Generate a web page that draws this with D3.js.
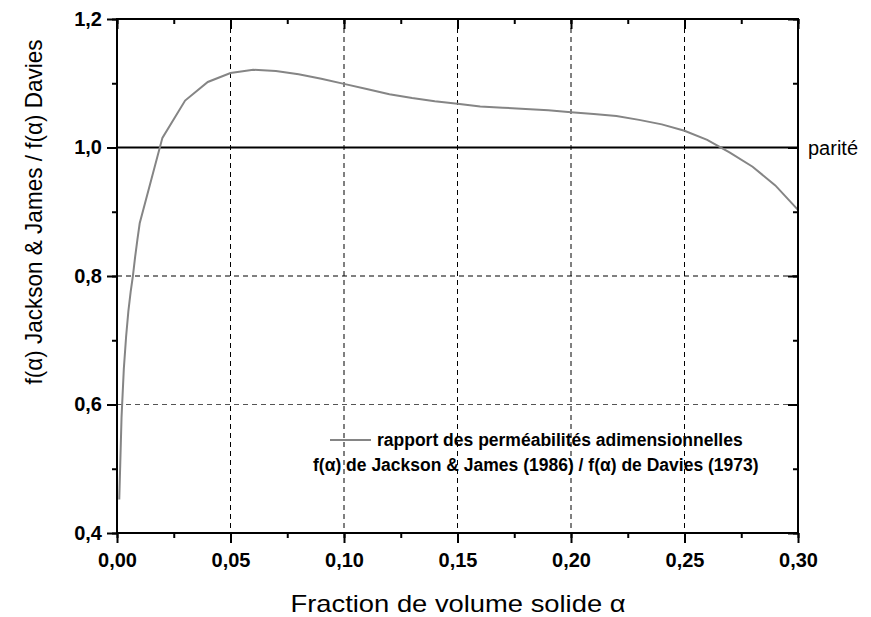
<!DOCTYPE html>
<html><head><meta charset="utf-8">
<script src="https://cdn.jsdelivr.net/npm/d3@7"></script>
<style>body{margin:0;background:#fff}svg{display:block}</style>
</head><body>
<svg id="c" width="871" height="617"></svg>
<script>
const alphaValues = [0.001,0.002,0.003,0.004,0.005,0.006,0.007,0.008,0.009,0.01,0.02,0.03,0.04,0.05,0.06,0.07,0.08,0.09,0.10,0.11,0.12,0.13,0.14,0.15,0.16,0.17,0.18,0.19,0.20,0.21,0.22,0.23,0.24,0.25,0.26,0.27,0.28,0.29,0.30];
const ratioValues = [0.452,0.58,0.655,0.705,0.745,0.775,0.80,0.83,0.857,0.882,1.015,1.073,1.102,1.116,1.121,1.119,1.114,1.107,1.099,1.091,1.083,1.077,1.072,1.068,1.064,1.062,1.060,1.058,1.055,1.052,1.049,1.043,1.036,1.026,1.012,0.992,0.970,0.941,0.903];
const xTicks = [0,0.05,0.10,0.15,0.20,0.25,0.30];
const yTicks = [0.4,0.6,0.8,1.0,1.2];
const xTitle = "Fraction de volume solide α";
const yTitle = "f(α) Jackson & James / f(α) Davies";
const legendLines = ["rapport des perméabilités adimensionnelles","f(α) de Jackson & James (1986) / f(α) de Davies (1973)"];
const parityValue = 1.0, parityLabel = "parité";

const L=117,R=798,T=19,B=533;
const svg=d3.select("#c");
const x=d3.scaleLinear().domain([0,0.30]).range([L,R]);
const y=d3.scaleLinear().domain([0.4,1.2]).range([B,T]);
const fmt=d=>d3.format(".2f")(d).replace(".",",");
const fmtY=d=>d3.format(".1f")(d).replace(".",",");
const xMinor=d3.range(0,0.3001,0.025);
const yMinor=d3.range(0.4,1.2001,0.1);

// grid
const g=svg.append("g");
xTicks.slice(1,-1).forEach(t=>g.append("line").attr("x1",x(t)).attr("x2",x(t)).attr("y1",T).attr("y2",B)
  .attr("stroke","#000").attr("stroke-width",1).attr("stroke-dasharray","5,4"));
[0.6,0.8].forEach(t=>g.append("line").attr("x1",L).attr("x2",R).attr("y1",y(t)).attr("y2",y(t))
  .attr("stroke",t===0.6?"#555":"#000").attr("stroke-width",1).attr("stroke-dasharray","5,4"));

// parity line
svg.append("line").attr("x1",L).attr("x2",R).attr("y1",y(parityValue)).attr("y2",y(parityValue))
  .attr("stroke","#000").attr("stroke-width",2);

// curve
svg.append("path").datum(alphaValues.map((a,i)=>[a,ratioValues[i]]))
  .attr("d",d3.line().x(d=>x(d[0])).y(d=>y(d[1])))
  .attr("fill","none").attr("stroke","#858585").attr("stroke-width",2);

// axes
function ax(axis,tr){
  const a=svg.append("g").attr("transform",tr).call(axis);
  a.select(".domain").remove();
  a.selectAll("line").attr("stroke","#000").attr("stroke-width",2);
  return a;
}
// minor ticks
ax(d3.axisBottom(x).tickValues(xMinor).tickSize(5).tickFormat(""),`translate(0,${B})`);
ax(d3.axisTop(x).tickValues(xMinor).tickSize(-5).tickFormat(""),`translate(0,${T})`);
ax(d3.axisLeft(y).tickValues(yMinor).tickSize(5).tickFormat(""),`translate(${L},0)`);
ax(d3.axisRight(y).tickValues(yMinor).tickSize(-5).tickFormat(""),`translate(${R},0)`);
// major ticks
const xb=ax(d3.axisBottom(x).tickValues(xTicks).tickSize(10).tickPadding(10).tickFormat(fmt),`translate(0,${B})`);
ax(d3.axisTop(x).tickValues(xTicks).tickSize(-10).tickFormat(""),`translate(0,${T})`);
const yl=ax(d3.axisLeft(y).tickValues(yTicks).tickSize(10).tickPadding(5).tickFormat(fmtY),`translate(${L},0)`);
ax(d3.axisRight(y).tickValues(yTicks).tickSize(-10).tickFormat(""),`translate(${R},0)`);
[xb,yl].forEach(a=>a.selectAll("text").attr("font-family","Liberation Sans, Arial, sans-serif")
  .attr("font-weight","bold").attr("font-size",20).attr("fill","#000"));

// frame
svg.append("rect").attr("x",L).attr("y",T).attr("width",R-L).attr("height",B-T)
  .attr("fill","none").attr("stroke","#000").attr("stroke-width",2);

// titles
svg.append("text").attr("x",458).attr("y",612).attr("text-anchor","middle")
  .attr("font-family","Liberation Sans, Arial, sans-serif").attr("font-size",24)
  .attr("textLength",335).attr("lengthAdjust","spacingAndGlyphs").text(xTitle);
svg.append("text").attr("transform","translate(42,212) rotate(-90)").attr("text-anchor","middle")
  .attr("font-family","Liberation Sans, Arial, sans-serif").attr("font-size",24)
  .attr("textLength",345).attr("lengthAdjust","spacingAndGlyphs").text(yTitle);

// parity label
svg.append("text").attr("x",808).attr("y",y(parityValue)+7)
  .attr("font-family","Liberation Sans, Arial, sans-serif").attr("font-size",20).text(parityLabel);

// legend
svg.append("line").attr("x1",330).attr("x2",371).attr("y1",440).attr("y2",440).attr("stroke","#858585").attr("stroke-width",2);
svg.append("text").attr("x",377).attr("y",446).attr("font-family","Liberation Sans, Arial, sans-serif")
  .attr("font-weight","bold").attr("font-size",17.5).text(legendLines[0]);
svg.append("text").attr("x",313).attr("y",471).attr("font-family","Liberation Sans, Arial, sans-serif")
  .attr("font-weight","bold").attr("font-size",17.5).text(legendLines[1]);
</script>
</body></html>
